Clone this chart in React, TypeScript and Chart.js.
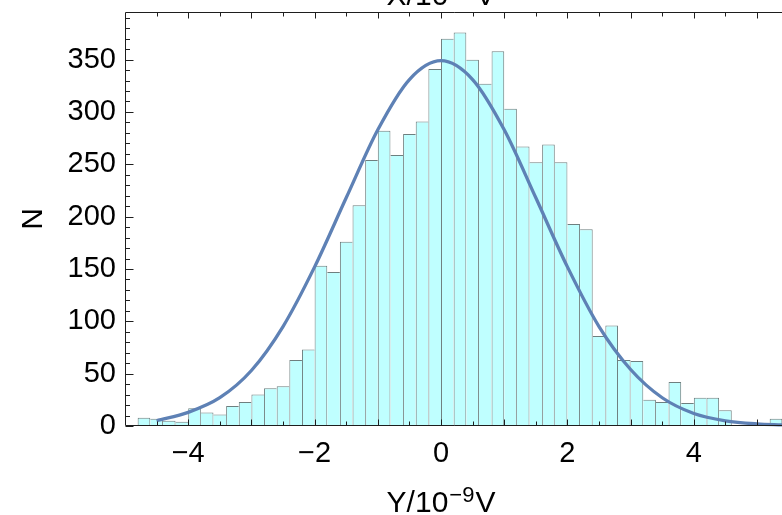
import React, { useEffect, useRef } from "react";
import { Chart, registerables } from "chart.js";

Chart.register(...registerables);

// Histogram bins (width 0.2), centres and counts
const binCenters = [
  -4.7, -4.5, -4.3, -4.1, -3.9, -3.7, -3.5, -3.3, -3.1, -2.9,
  -2.7, -2.5, -2.3, -2.1, -1.9, -1.7, -1.5, -1.3, -1.1, -0.9,
  -0.7, -0.5, -0.3, -0.1, 0.1, 0.3, 0.5, 0.7, 0.9, 1.1,
  1.3, 1.5, 1.7, 1.9, 2.1, 2.3, 2.5, 2.7, 2.9, 3.1,
  3.3, 3.5, 3.7, 3.9, 4.1, 4.3, 4.5, 4.7, 4.9, 5.1,
  5.3,
];
const binCounts = [
  8, 7, 5, 4, 17, 13, 11, 19, 23, 30,
  36, 38, 63, 73, 153, 147, 176, 211, 254, 282,
  259, 279, 291, 341, 370, 376, 350, 327, 358, 303,
  267, 252, 269, 252, 193, 188, 86, 96, 63, 62,
  25, 23, 42, 22, 27, 27, 15, 1, 1, 1,
  7,
];

// Fitted curve, points
const curveX = [-4.5, -4, -3.5, -3, -2.5, -2, -1.5, -1, -0.5, 0, 0.5, 1, 1.5, 2, 2.5, 3, 3.5, 4, 4.5, 5, 5.4];
const curveY = [5, 13, 27, 53, 95, 152, 218, 283, 331, 349, 331, 283, 218, 152, 95, 54, 27, 12, 5, 2, 1];

// Axes
const xTickLabels = [-4, -2, 0, 2, 4];
const yTickLabels = [0, 50, 100, 150, 200, 250, 300, 350];
const xMin = -5;
const xMax = 5.395;
const yMin = 0;
const yMax = 395.5;
const xMinorStep = 0.5;
const yMinorStep = 10;
const yMajorStep = 50;
const titleCenterValue = 0;

// Axis titles: [base, superscript, base]
const xTitleParts = ["Y/10", "\u22129", "V"];
const topTitleParts = ["X/10", "\u22129", "V"];
const yTitle = "N";

const TOP_CUT = 24;
const FONT = "'Liberation Sans', Arial, sans-serif";
const BASE_SIZE = 29;
const TITLE_SIZE = 30;
const SUP_SIZE = 22;

function drawRich(ctx: CanvasRenderingContext2D, cx: number, baseline: number, parts: string[]) {
  const baseFont = `${TITLE_SIZE}px ${FONT}`;
  const supFont = `${SUP_SIZE}px ${FONT}`;
  ctx.font = baseFont;
  const w0 = ctx.measureText(parts[0]).width;
  const w2 = ctx.measureText(parts[2]).width;
  ctx.font = supFont;
  const w1 = ctx.measureText(parts[1]).width;
  const gap = 1;
  const total = w0 + w1 + w2 + 2 * gap;
  let x = cx - total / 2;
  ctx.fillStyle = "#000";
  ctx.textAlign = "left";
  ctx.textBaseline = "alphabetic";
  ctx.font = baseFont;
  ctx.fillText(parts[0], x, baseline);
  x += w0 + gap;
  ctx.font = supFont;
  ctx.fillText(parts[1], x, baseline - 10);
  x += w1 + gap;
  ctx.font = baseFont;
  ctx.fillText(parts[2], x, baseline);
}

const framePlugin = {
  id: "frameTicks",
  afterDatasetsDraw(chart: any) {
    const { ctx, chartArea: a, scales } = chart;
    const xs = scales.x;
    const ys = scales.y;
    ctx.save();
    ctx.strokeStyle = "#1e1e1e";
    ctx.lineWidth = 1;
    ctx.beginPath();
    const L = Math.round(a.left) + 0.5;
    const T = Math.round(a.top) + 0.5;
    const B = Math.round(a.bottom) - 0.5;
    ctx.moveTo(L, T);
    ctx.lineTo(L, B);
    ctx.moveTo(L, T);
    ctx.lineTo(a.right + 2, T);
    ctx.moveTo(L, B);
    ctx.lineTo(a.right + 2, B);
    for (let v = Math.ceil(xMin / xMinorStep) * xMinorStep; v <= xMax + 1e-9; v += xMinorStep) {
      const px = Math.round(xs.getPixelForValue(v)) + 0.5;
      if (px <= L + 1) continue;
      const len = Math.abs(v - Math.round(v)) < 1e-9 ? 6 : 4;
      ctx.moveTo(px, T);
      ctx.lineTo(px, T + len);
      ctx.moveTo(px, B);
      ctx.lineTo(px, B - len);
    }
    for (let v = yMin; v <= yMax + 1e-9; v += yMinorStep) {
      const py = Math.round(ys.getPixelForValue(v)) + 0.5;
      const major = Math.abs(v / yMajorStep - Math.round(v / yMajorStep)) < 1e-9;
      const len = major ? 8 : 4.5;
      ctx.moveTo(L, py);
      ctx.lineTo(L + len, py);
    }
    ctx.stroke();
    ctx.restore();
  },
  afterDraw(chart: any) {
    const { ctx, scales } = chart;
    const cx = scales.x.getPixelForValue(titleCenterValue);
    ctx.save();
    drawRich(ctx, cx, scales.x.bottom - 3, xTitleParts);
    drawRich(ctx, cx, TOP_CUT + 5, topTitleParts);
    ctx.restore();
  },
};

export default function App() {
  const ref = useRef<HTMLCanvasElement | null>(null);

  useEffect(() => {
    if (!ref.current) return;
    const barData = binCenters.map((x, i) => ({ x, y: binCounts[i] }));
    const lineData = curveX.map((x, i) => ({ x, y: curveY[i] }));

    const edgeWidth = (c: any) => {
      const i = c.dataIndex;
      const h = binCounts[i] ?? 0;
      const prev = i > 0 ? binCounts[i - 1] : 0;
      const next = i < binCounts.length - 1 ? binCounts[i + 1] : 0;
      return {
        top: 1,
        left: prev <= h ? 1 : 0,
        right: next < h ? 1 : 0,
        bottom: 0,
      };
    };

    const chart = new Chart(ref.current, {
      type: "bar",
      data: {
        datasets: [
          {
            type: "line",
            data: lineData,
            borderColor: "rgb(94,129,181)",
            borderWidth: 3.3,
            pointRadius: 0,
            fill: false,
            cubicInterpolationMode: "monotone",
            order: 0,
            clip: false,
          } as any,
          {
            type: "bar",
            data: barData,
            backgroundColor: "rgb(191,255,255)",
            borderColor: "rgba(85,105,105,0.85)",
            borderWidth: edgeWidth,
            borderSkipped: false,
            barPercentage: 1,
            categoryPercentage: 1,
            inflateAmount: 0,
            order: 1,
          } as any,
        ],
      },
      options: {
        animation: false,
        responsive: false,
        devicePixelRatio: 1,
        layout: { padding: 0 },
        plugins: {
          legend: { display: false },
          tooltip: { enabled: false },
          title: { display: false },
        },
        scales: {
          x: {
            type: "linear",
            position: "bottom",
            min: xMin,
            max: xMax,
            offset: false,
            grid: { display: false, drawTicks: false },
            border: { display: false },
            afterBuildTicks: (s: any) => {
              s.ticks = xTickLabels.map((v) => ({ value: v }));
            },
            afterFit: (s: any) => {
              s.height = 89;
            },
            ticks: {
              color: "#000",
              padding: 11,
              maxRotation: 0,
              autoSkip: false,
              font: { family: FONT, size: BASE_SIZE },
              callback: (v: any) => (Number(v) < 0 ? "\u2212" + Math.abs(Number(v)) : String(v)),
            },
          },
          x2: {
            type: "linear",
            position: "top",
            min: xMin,
            max: xMax,
            grid: { display: false, drawTicks: false },
            border: { display: false },
            ticks: { display: false },
            afterFit: (s: any) => {
              s.height = TOP_CUT + 12;
            },
          },
          y: {
            type: "linear",
            position: "left",
            min: yMin,
            max: yMax,
            grid: { display: false, drawTicks: false },
            border: { display: false },
            afterBuildTicks: (s: any) => {
              s.ticks = yTickLabels.map((v) => ({ value: v }));
            },
            afterFit: (s: any) => {
              s.width = 125;
            },
            ticks: {
              color: "#000",
              padding: 9,
              font: { family: FONT, size: BASE_SIZE },
            },
            title: {
              display: true,
              text: yTitle,
              color: "#000",
              font: { family: FONT, size: TITLE_SIZE, lineHeight: 1 },
              padding: { top: 19, bottom: 0 },
            },
          },
        },
      } as any,
      plugins: [framePlugin],
    });
    return () => chart.destroy();
  }, []);

  return (
    <div
      style={{
        position: "fixed",
        left: 0,
        top: 0,
        width: 782,
        height: 515,
        overflow: "hidden",
        background: "#fff",
      }}
    >
      <canvas
        ref={ref}
        width={782}
        height={515 + TOP_CUT}
        style={{ position: "absolute", left: 0, top: -TOP_CUT, display: "block" }}
      />
    </div>
  );
}
